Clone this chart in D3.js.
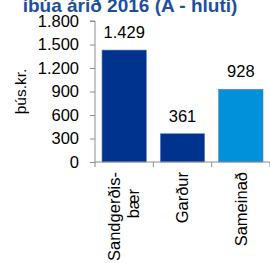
<!DOCTYPE html>
<html>
<head>
<meta charset="utf-8">
<script src="https://cdn.jsdelivr.net/npm/d3@7"></script>
<style>
  body { margin: 0; background: #fff; }
  text { font-family: "Liberation Sans", Arial, sans-serif; }
</style>
</head>
<body>
<div id="chart"></div>
<script>
//constants
const width = 270;
const height = 263;
const margin = { top: 21, bottom: 101, left: 95, right: 0 };

//data
const categories = ["Sandgerðisbær", "Garður", "Sameinað"];
const labelLines = [["Sandgerðis-", "bær"], ["Garður"], ["Sameinað"]];
const values = [1429, 361, 928];
const barColors = ["#00338d", "#00338d", "#0091da"];
const yTicks = [0, 300, 600, 900, 1200, 1500, 1800];
const title = "íbúa árið 2016 (A - hluti)";
const yLabel = "þús.kr.";

const locale = d3.formatLocale({ decimal: ",", thousands: ".", grouping: [3], currency: ["", ""] });
const format = locale.format(",d");

const svg = d3
  .select("#chart")
  .append("svg")
  .attr("width", width)
  .attr("height", height);

const x = d3
  .scaleBand()
  .domain(categories)
  .range([margin.left, width - margin.right]);

const y = d3
  .scaleLinear()
  .domain([0, 1800])
  .range([height - margin.bottom, margin.top]);

// title (top is cut off like in the original)
svg
  .append("text")
  .attr("x", 130)
  .attr("y", 12)
  .attr("text-anchor", "middle")
  .attr("font-size", 19)
  .attr("font-weight", "bold")
  .attr("fill", "#1d4f9f")
  .text(title);

// y axis
const yAxis = d3.axisLeft(y).tickValues(yTicks).tickFormat(format).tickSize(5).tickPadding(11);
const gy = svg
  .append("g")
  .attr("transform", `translate(${margin.left},0)`)
  .call(yAxis);
gy.select(".domain").attr("stroke", "#8c8c8c").attr("d", `M-5,${y(1800)}H0V${y(0)}`);
gy.selectAll(".tick line").attr("stroke", "#8c8c8c");
gy.selectAll(".tick text")
  .attr("font-size", 16.5)
  .attr("fill", "#000")
  .attr("font-family", "Liberation Sans, Arial");

// y label
svg
  .append("text")
  .attr("transform", `translate(26,${(y(0) + y(1800)) / 2}) rotate(-90)`)
  .attr("text-anchor", "middle")
  .attr("font-size", 15.5)
  .attr("fill", "#000")
  .text(yLabel);

// bars
const inset = x.bandwidth() * 0.12;
svg
  .selectAll(".bar")
  .data(values)
  .join("rect")
  .attr("class", "bar")
  .attr("x", (d, i) => x(categories[i]) + inset)
  .attr("y", (d) => y(d))
  .attr("width", x.bandwidth() - 2 * inset)
  .attr("height", (d) => y(0) - y(d))
  .attr("fill", (d, i) => barColors[i])
  .attr("stroke", "#5b7fc0")
  .attr("stroke-width", 0.6);

// value labels
svg
  .selectAll(".val")
  .data(values)
  .join("text")
  .attr("class", "val")
  .attr("x", (d, i) => x(categories[i]) + x.bandwidth() / 2)
  .attr("y", (d) => y(d) - 12)
  .attr("text-anchor", "middle")
  .attr("font-size", 16.5)
  .attr("fill", "#000")
  .text((d) => format(d));

// x axis line and ticks between categories
const bounds = categories.map((c) => x(c)).concat([x(categories[categories.length - 1]) + x.bandwidth()]);
svg
  .append("line")
  .attr("x1", x.range()[0])
  .attr("x2", x.range()[1])
  .attr("y1", y(0))
  .attr("y2", y(0))
  .attr("stroke", "#8c8c8c");
svg
  .selectAll(".xtick")
  .data(bounds)
  .join("line")
  .attr("class", "xtick")
  .attr("x1", (d) => d)
  .attr("x2", (d) => d)
  .attr("y1", y(0))
  .attr("y2", y(0) + 5)
  .attr("stroke", "#8c8c8c");

// category labels, rotated; the second line sits a bit lower like in the original
const cat = svg
  .selectAll(".cat")
  .data(labelLines)
  .join("text")
  .attr("class", "cat")
  .attr("transform", (d, i) => `translate(${x(categories[i]) + x.bandwidth() / 2},${y(0) + 10}) rotate(-90)`)
  .attr("text-anchor", "end")
  .attr("font-size", 16.5)
  .attr("fill", "#000");
cat
  .selectAll("tspan")
  .data((d) => d.map((t, j) => ({ t, j, n: d.length })))
  .join("tspan")
  .attr("x", (d) => (d.j === 0 ? 0 : -17))
  .attr("y", (d) => (d.j - (d.n - 1) / 2) * 19)
  .attr("dy", "0.35em")
  .text((d) => d.t);
</script>
</body>
</html>
